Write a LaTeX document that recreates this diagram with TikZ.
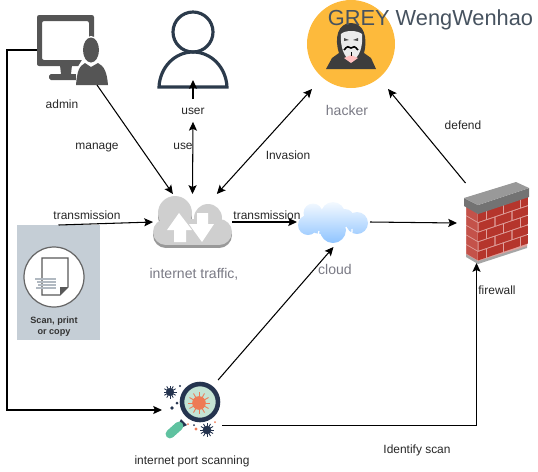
\documentclass[tikz,border=0pt]{standalone}
\usepackage{fontspec}
\setmainfont{Liberation Sans}
\usetikzlibrary{arrows.meta,fit}
\tikzset{>={Stealth[length=5pt,width=4.6pt,inset=1pt]}}
\definecolor{adminc}{HTML}{555555}
\definecolor{userc}{HTML}{2B3A4B}
\definecolor{hackerc}{HTML}{FDBA3C}
\definecolor{hoodc}{HTML}{3D3D3D}
\definecolor{panelc}{HTML}{C5CED6}
\definecolor{ringc}{HTML}{25344F}
\definecolor{virusc}{HTML}{EE7A55}
\definecolor{brickc}{HTML}{B5352C}
\definecolor{sidec}{HTML}{C4524A}
\definecolor{greyc}{HTML}{7A7A85}
\definecolor{titlec}{HTML}{46525F}
\definecolor{skyc}{HTML}{8FC4FF}
\definecolor{handlec}{HTML}{5FC2A0}
\definecolor{lensc}{HTML}{C4E3D4}
\tikzset{
  iconbox/.style={inner sep=0pt,outer sep=0pt},
  link/.style={line width=0.6pt},
  blacklabel/.style={font=\fontsize{6.8}{8}\selectfont,text=black!85,text height=6pt,text depth=1.4pt},
  greylabel/.style={font=\fontsize{8}{10}\selectfont,text=greyc,text height=7.4pt,text depth=1.7pt},
}
\newcommand{\virusmark}[4]{%
  \begin{scope}[shift={(#1,#2)}]
    \fill[#4] (0,0) circle (#3*0.62);
    \foreach \a in {0,30,...,330}
      \draw[#4,line width=0.5pt] (0,0) -- (\a:#3);
  \end{scope}}
\begin{document}
\begin{tikzpicture}[x=0.02cm,y=-0.02cm]
\useasboundingbox (0,0) rectangle (538,471);
% admin
\fill[adminc,rounded corners=1.2pt,even odd rule] (37,15) rectangle (94,66)
  (42,21) rectangle (89,60);
\fill[adminc] (60,65) -- (72,65) -- (71,74) -- (61,74) -- cycle;
\fill[adminc,rounded corners=1pt] (49,74) rectangle (78,80);
\fill[white] (76,86) -- (76,70) -- (82,60) -- (100,60) -- (109,70) -- (109,86) -- cycle;
\fill[white] (91,51) ellipse (10 and 15);
\fill[adminc] (91,50) ellipse (8 and 12.5);
\fill[adminc] (76,85) .. controls (77,72) and (79,66) .. (85,63)
  -- (91,67) -- (98,63) .. controls (104,66) and (107,72) .. (108,85) -- cycle;
% user
\draw[userc,line width=1.8pt] (193,32) circle (20);
\draw[userc,line width=1.8pt] (159,87) .. controls (160,67) and (175,52) .. (193,52)
  .. controls (211,52) and (226,67) .. (227,87) -- cycle;
% hacker
\fill[hackerc] (351,44) circle (44);
\fill[hoodc] (326,69) -- (332,58) -- (339,53) .. controls (334,38) and (338,23) .. (351,23)
  .. controls (364,23) and (368,38) .. (364,53) -- (371,58) -- (376,69) -- cycle;
\fill[white!92!black] (341,34) .. controls (345,30) and (357,30) .. (362,34)
  .. controls (363,46) and (360,58) .. (351,61) .. controls (344,58) and (340,46) .. (341,34) -- cycle;
\fill[red!25] (344,58) -- (351,63) -- (358,58) -- (351,55) -- cycle;
\fill[black!70] (344,38) -- (349,40) -- (344,41) -- cycle (358,38) -- (353,40) -- (358,41) -- cycle;
\draw[black,line width=0.9pt] (344,50) .. controls (347,46) and (349,46) .. (351,48)
  .. controls (353,46) and (355,46) .. (358,50);
\draw[black,line width=0.5pt] (351,52) -- (351,56);
% internet traffic
\foreach \dy/\col in {3/black!40,0/black!19}{
  \fill[\col] (175,{213+\dy}) circle (17);
  \fill[\col] (208,{218+\dy}) circle (14);
  \fill[\col] (166,{232+\dy}) circle (13);
  \fill[\col] (219,{232+\dy}) circle (13);
  \fill[\col] (166,{219+\dy}) rectangle (219,{245+\dy});
}
\fill[white] (179,213) -- (192,230) -- (186,230) -- (186,242) -- (174,242) -- (174,230) -- (167,230) -- cycle;
\fill[white] (202,242) -- (214,224) -- (208,224) -- (208,213) -- (197,213) -- (197,224) -- (189,224) -- cycle;
% cloud
\path[top color=white!90!skyc,bottom color=skyc]
  (308,225) circle (10) (313,213) circle (9.5) (333,214) circle (12)
  (357,223) circle (11) (333,230) circle (13) (345,218) circle (9) (320,222) circle (12);
\draw[white,line width=0.7pt] (320,236) .. controls (318,234) and (318,232) .. (319,231)
  (350,234) .. controls (352,233) and (353,231) .. (352,229);
% firewall
\fill[black!35] (466,252) -- (478,259) -- (527,243) -- (527,248) -- (478,264) -- (466,257) -- cycle;
\fill[sidec!55!white] (466,206) -- (478,213) -- (528,196) -- (527,246) -- (478,261) -- (466,254) -- cycle;
\begin{scope}[shift={(478,213)},x={(1cm,0.34cm)},y={(0,-0.96cm)}]
  \clip (0,0) -- (1,0) -- (1,1) -- (0,1) -- cycle;
  \foreach \r/\sh in {0/-0.17,1/0,2/-0.17,3/0,4/-0.17}{
    \foreach \b in {0,1,2,3}{
      \pgfmathsetmacro{\ua}{\sh+\b*0.34+0.012}
      \pgfmathsetmacro{\ub}{\sh+\b*0.34+0.328}
      \pgfmathsetmacro{\va}{\r*0.2+0.012}
      \pgfmathsetmacro{\vb}{\r*0.2+0.188}
      \fill[brickc] (\ua,\va) -- (\ub,\va) -- (\ub,\vb) -- (\ua,\vb) -- cycle;
    }
  }
\end{scope}
\begin{scope}[shift={(466,206)},x={(0.24cm,-0.14cm)},y={(0,-0.96cm)}]
  \foreach \r in {0,...,4}{
    \pgfmathsetmacro{\va}{\r*0.2+0.012}
    \pgfmathsetmacro{\vb}{\r*0.2+0.188}
    \fill[sidec] (0.03,\va) -- (0.97,\va) -- (0.97,\vb) -- (0.03,\vb) -- cycle;
  }
\end{scope}
\fill[black!55] (464,198) -- (478,205) -- (529,188) -- (529,197) -- (478,214) -- (464,206) -- cycle;
\fill[black!40] (464,198) -- (516,182) -- (529,188) -- (478,205) -- cycle;
% scan panel
\fill[panelc] (17,225) rectangle (100,340);
\draw[black!60,fill=white,line width=0.7pt] (54,277) circle (30);
\draw[black!65,fill=white,line width=0.6pt] (42,258) -- (68,258) -- (68,287) -- (60,295) -- (42,295) -- cycle;
\fill[black!65] (60,295) -- (60,287) -- (68,287) -- cycle;
\foreach \yy/\xx in {279/35,282/37,285/38,288/36}
  \draw[panelc!90!black,line width=0.8pt] (\xx,\yy) -- (56,\yy);
% port scanning
\fill[ringc] (181,419) -- (187,425) -- (181,428) -- (178,425) -- cycle;
\draw[handlec,line width=5pt,line cap=round] (179,426) -- (170,434);
\draw[ringc,fill=lensc,line width=2.6pt] (200,402) circle (18);
\virusmark{199}{403}{11}{virusc}
\virusmark{170}{392}{6.5}{ringc}
\virusmark{207}{430}{7}{ringc}
\foreach \px/\py/\pr/\pc in {172/408/1.8/ringc,177/403/1.5/ringc,180/386/1.2/ringc,196/429/1.7/virusc,188/424/1/virusc,194/425/1/ringc,215/422/1/virusc}
  \fill[\pc] (\px,\py) circle (\pr);
% icon boxes
\node[iconbox,fit={(37,15) (108,85)}] (admin) {};
\node[iconbox,fit={(158,12) (228,80)}] (user) {};
\node[iconbox,fit={(312,0) (388,89)}] (hacker) {};
\node[iconbox,fit={(153,194) (232,250)}] (traffic) {};
\node[iconbox,fit={(297,197) (370,247)}] (cloud) {};
\node[iconbox,fit={(457,183) (530,263)}] (firewall) {};
\node[iconbox,fit={(17,225) (100,340)}] (panel) {};
\node[iconbox,fit={(162,380) (222,440)}] (scanner) {};
% labels
\node[blacklabel] (adminlabel) at (62,104) {admin};
\node[blacklabel,minimum height=0.44cm,inner sep=0pt] (userlabel) at (193,110.5) {user};
\node[blacklabel] (managelabel) at (97,145) {manage};
\node[blacklabel] (uselabel) at (183,145) {use};
\node[blacklabel] (invasionlabel) at (288,155) {Invasion};
\node[blacklabel] (defendlabel) at (463,125) {defend};
\node[blacklabel] (translabela) at (87,215) {transmission};
\node[blacklabel] (translabelb) at (267,215) {transmission};
\node[blacklabel] (firewalllabel) at (497,290) {firewall};
\node[blacklabel] (identifylabel) at (417,449) {Identify scan};
\node[blacklabel] (scannerlabel) at (192,460) {internet port scanning};
\node[greylabel] (hackerlabel) at (347,110) {hacker};
\node[greylabel] (trafficlabel) at (194,273) {internet traffic,};
\node[greylabel] (cloudlabel) at (335,269) {cloud};
\node[font=\bfseries\fontsize{5.2}{6.3}\selectfont,text=black!80,align=center] (panellabel) at (54,327) {Scan, print\\or copy};
\node[font=\fontsize{12.4}{14}\selectfont,text=titlec] (titlelabel) at (430.5,20) {GREY WengWenhao};
% links
\draw[->,link] (admin.-55) -- (traffic.125);
\draw[->,link] (userlabel.north) -- (user.south);
\draw[<->,link] (userlabel.south) -- (traffic.north);
\draw[<->,link] (traffic.49) -- (hacker.south west);
\draw[->,link] (firewall.125.5) -- (hacker.south east);
\draw[->,link] (panel.north) -- (traffic.west);
\draw[->,link] (traffic.east) -- (cloud.west);
\draw[->,link] (cloud.east) -- (firewall.west);
\draw[->,link] (scanner.49) -- (cloud.south);
\draw[->,link] (scanner.-28) -| (firewall.247.6);
\draw[->,link] (admin.west) -- ++(-30,0) |- (scanner.west);
\end{tikzpicture}
\end{document}
